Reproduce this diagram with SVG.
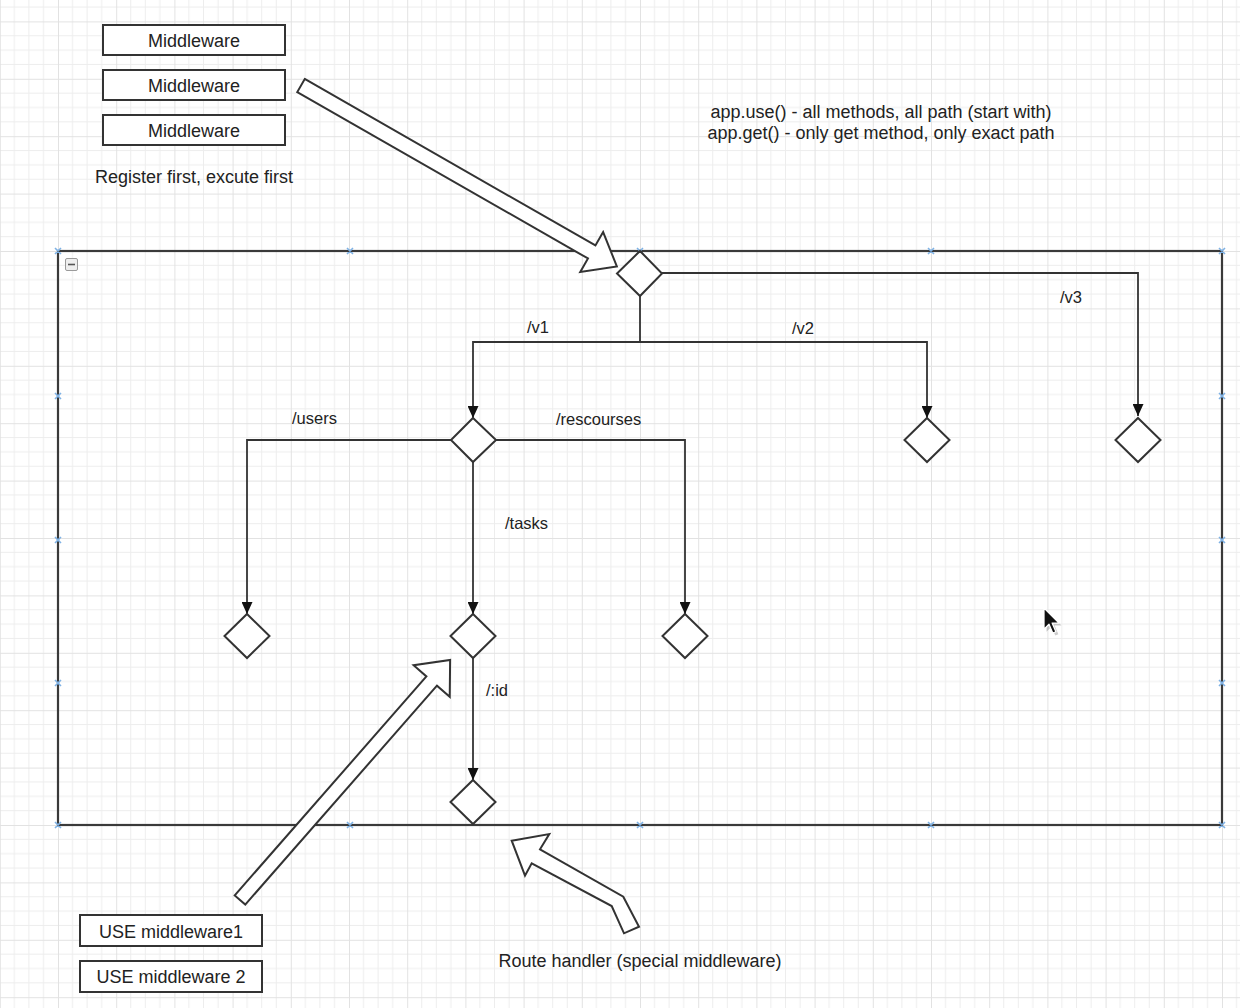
<svg xmlns="http://www.w3.org/2000/svg" width="1240" height="1008" viewBox="0 0 1240 1008">
  <style>
    .box { fill: #ffffff; stroke: #333333; stroke-width: 2; }
    .dia { fill: #ffffff; stroke: #333333; stroke-width: 2; }
    .edge { fill: none; stroke: #333333; stroke-width: 1.8; }
    .fat { fill: #ffffff; stroke: #333333; stroke-width: 2; stroke-linejoin: miter; }
    .t18 { font-family: "Liberation Sans", Arial, sans-serif; font-size: 18px; fill: #222222; }
    .lbl { font-family: "Liberation Sans", Arial, sans-serif; font-size: 16.5px; fill: #222222; }
    .mid { text-anchor: middle; }
    .pt { stroke: #7fb2e5; stroke-width: 1.6; }
  </style>
  <defs>
    <pattern id="grid" x="58" y="251" width="58.2" height="57.4" patternUnits="userSpaceOnUse">
      <path d="M14.55 0V57.4M29.1 0V57.4M43.65 0V57.4M0 14.35H58.2M0 28.7H58.2M0 43.05H58.2" stroke="#ededed" stroke-width="1" fill="none"/>
      <path d="M0.5 0V57.4M0 0.5H58.2" stroke="#e2e2e2" stroke-width="1" fill="none"/>
    </pattern>
    <marker id="arr" markerUnits="userSpaceOnUse" markerWidth="12" markerHeight="11" refX="12" refY="5.5" orient="auto">
      <path d="M0,0 L12,5.5 L0,11 z" fill="#111111"/>
    </marker>
  </defs>

  <!-- canvas -->
  <rect width="1240" height="1008" fill="#ffffff"/>
  <rect width="1240" height="1008" fill="url(#grid)"/>

  <!-- container lane -->
  <g id="container">
    <rect x="58" y="251" width="1164" height="574" fill="none" stroke="#3a3a3a" stroke-width="2.2"/>
    <rect x="65.5" y="258.5" width="12" height="12" rx="1.5" fill="#eeeeee" stroke="#9a9a9a" stroke-width="1"/>
    <line x1="68" y1="264.5" x2="75" y2="264.5" stroke="#555555" stroke-width="1.6"/>
    <g id="connection-points">
      <path class="pt" d="M55 248l6 6M61 248l-6 6 M347 248l6 6M353 248l-6 6 M637 248l6 6M643 248l-6 6 M928 248l6 6M934 248l-6 6 M1219 248l6 6M1225 248l-6 6"/>
      <path class="pt" d="M55 822l6 6M61 822l-6 6 M347 822l6 6M353 822l-6 6 M637 822l6 6M643 822l-6 6 M928 822l6 6M934 822l-6 6 M1219 822l6 6M1225 822l-6 6"/>
      <path class="pt" d="M55 393l6 6M61 393l-6 6 M55 537l6 6M61 537l-6 6 M55 680l6 6M61 680l-6 6"/>
      <path class="pt" d="M1219 393l6 6M1225 393l-6 6 M1219 537l6 6M1225 537l-6 6 M1219 680l6 6M1225 680l-6 6"/>
    </g>
  </g>

  <!-- connectors between routing nodes -->
  <g id="edges">
    <path class="edge" d="M662 273 H1138 V416" marker-end="url(#arr)"/>
    <path class="edge" d="M640 296 V342 H473 V418" marker-end="url(#arr)"/>
    <path class="edge" d="M640 342 H927 V418" marker-end="url(#arr)"/>
    <path class="edge" d="M451 440 H247 V614" marker-end="url(#arr)"/>
    <path class="edge" d="M496 440 H685 V614" marker-end="url(#arr)"/>
    <path class="edge" d="M473 462 V614" marker-end="url(#arr)"/>
    <path class="edge" d="M473 658 V780" marker-end="url(#arr)"/>
  </g>

  <!-- edge labels -->
  <g id="edge-labels">
    <text class="lbl" x="1060" y="303">/v3</text>
    <text class="lbl" x="527" y="333">/v1</text>
    <text class="lbl" x="792" y="334">/v2</text>
    <text class="lbl" x="292" y="424">/users</text>
    <text class="lbl" x="556" y="425">/rescourses</text>
    <text class="lbl" x="505" y="529">/tasks</text>
    <text class="lbl" x="486" y="696">/:id</text>
  </g>

  <!-- routing decision nodes -->
  <g id="root"><path class="dia" d="M640 251 L662 273.5 L640 296 L617 273.5 Z"/></g>
  <g id="v1"><path class="dia" d="M473 418 L496 440 L473 462 L451 440 Z"/></g>
  <g id="v2"><path class="dia" d="M927 418 L949.5 440 L927 462 L904.5 440 Z"/></g>
  <g id="v3"><path class="dia" d="M1138 418 L1160.5 440 L1138 462 L1115.5 440 Z"/></g>
  <g id="users"><path class="dia" d="M247 614 L269.5 636 L247 658 L224.5 636 Z"/></g>
  <g id="tasks"><path class="dia" d="M473 614 L495.5 636 L473 658 L450.5 636 Z"/></g>
  <g id="resources"><path class="dia" d="M685 614 L707.5 636 L685 658 L662.5 636 Z"/></g>
  <g id="task-id"><path class="dia" d="M473 780 L495.5 802 L473 824 L450.5 802 Z"/></g>

  <!-- global middleware stack -->
  <g id="middleware-1">
    <rect class="box" x="103" y="25" width="182" height="30"/>
    <text class="t18 mid" x="194" y="46.5">Middleware</text>
  </g>
  <g id="middleware-2">
    <rect class="box" x="103" y="70" width="182" height="30"/>
    <text class="t18 mid" x="194" y="91.5">Middleware</text>
  </g>
  <g id="middleware-3">
    <rect class="box" x="103" y="115" width="182" height="30"/>
    <text class="t18 mid" x="194" y="136.5">Middleware</text>
  </g>
  <g id="register-note">
    <text class="t18 mid" x="194" y="182.5">Register first, excute first</text>
  </g>

  <g id="methods-note">
    <text class="t18 mid" x="881" y="118">app.use() - all methods, all path (start with)</text>
    <text class="t18 mid" x="881" y="139">app.get() - only get method, only exact path</text>
  </g>

  <!-- route-level middleware -->
  <g id="use-middleware-1">
    <rect class="box" x="80" y="915" width="182" height="31"/>
    <text class="t18 mid" x="171" y="937.5">USE middleware1</text>
  </g>
  <g id="use-middleware-2">
    <rect class="box" x="80" y="961" width="182" height="31"/>
    <text class="t18 mid" x="171" y="983">USE middleware 2</text>
  </g>

  <g id="route-handler-note">
    <text class="t18 mid" x="640" y="967">Route handler (special middleware)</text>
  </g>

  <!-- hollow pointer arrows -->
  <g id="big-arrows">
    <g transform="translate(301 85.5) rotate(29.8)">
      <path class="fat" d="M0 -7.5 L335 -7.5 L335 -23 L364 0 L335 23 L335 7.5 L0 7.5 Z"/>
    </g>
    <g transform="translate(240 900) rotate(-48.8)">
      <path class="fat" d="M0 -7 L291 -7 L291 -24 L319 0 L291 24 L291 7 L0 7 Z"/>
    </g>
    <path class="fat" d="M511.7 840.7 L549.3 834 L540 849.3 L623.3 896.7 L639 926.7 L624 933.3 L611.7 906 L531.7 863.3 L525 875.7 Z"/>
  </g>

  <!-- mouse pointer -->
  <g id="pointer" transform="translate(1044 608) scale(1.25)">
    <path d="M1 1 L1 18 L5 14 L8 21 L10.5 20 L7.5 13 L13 13 Z" fill="#000000" opacity="0.2" transform="translate(1 1)"/>
    <path d="M0 0 L0 17 L4 13 L7 20 L9.5 19 L6.5 12 L12 12 Z" fill="#111111" stroke="#ffffff" stroke-width="1" stroke-linejoin="round"/>
  </g>
</svg>
